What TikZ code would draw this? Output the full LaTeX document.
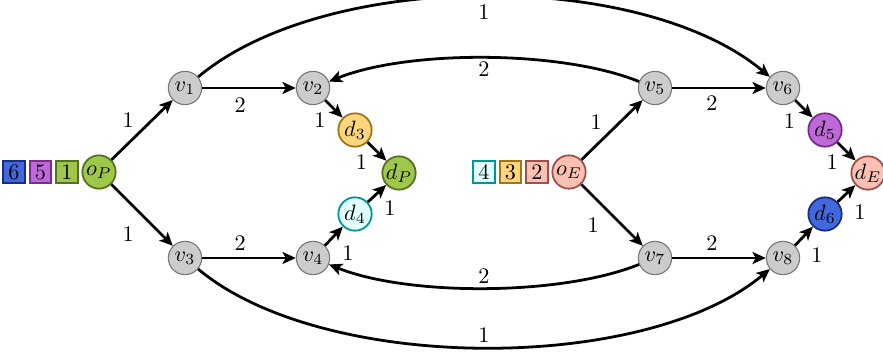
\documentclass[tikz,border=0pt]{standalone}
\usetikzlibrary{arrows.meta}
\definecolor{vfill}{RGB}{204,204,204}
\definecolor{vdraw}{RGB}{120,120,120}
\definecolor{gfill}{RGB}{157,200,75}
\definecolor{gdraw}{RGB}{85,115,30}
\definecolor{pfill}{RGB}{190,105,215}
\definecolor{pdraw}{RGB}{120,45,140}
\definecolor{bfill}{RGB}{65,105,220}
\definecolor{bdraw}{RGB}{25,45,130}
\definecolor{cfill}{RGB}{225,255,255}
\definecolor{cdraw}{RGB}{0,150,150}
\definecolor{ofill}{RGB}{255,213,125}
\definecolor{odraw}{RGB}{160,118,20}
\definecolor{sfill}{RGB}{255,192,180}
\definecolor{sdraw}{RGB}{160,80,72}
\tikzset{
  vnode/.style={circle, draw=vdraw, fill=vfill, line width=0.5pt, minimum size=15pt, inner sep=0pt},
  cnode/.style={circle, line width=0.8pt, minimum size=15pt, inner sep=0pt},
  bx/.style={rectangle, line width=0.8pt, minimum size=9.6pt, inner sep=0pt},
  gstyle/.style={fill=gfill, draw=gdraw},
  pstyle/.style={fill=pfill, draw=pdraw},
  bstyle/.style={fill=bfill, draw=bdraw},
  cstyle/.style={fill=cfill, draw=cdraw},
  ostyle/.style={fill=ofill, draw=odraw},
  sstyle/.style={fill=sfill, draw=sdraw},
  edge/.style={line width=1.25pt, -{Stealth[length=6pt,width=5.4pt,inset=1.5pt]}},
  lab/.style={inner sep=0pt, midway}
}
\begin{document}
\begin{tikzpicture}[x=0.45pt, y=-0.45pt]
\useasboundingbox (0,0) rectangle (883,354);
% left group
\node[bx, bstyle] (b6) at (14,172) {$6$};
\node[bx, pstyle] (b5) at (40.5,172) {$5$};
\node[bx, gstyle] (b1) at (67,172) {$1$};
\node[cnode, gstyle] (oP) at (99,172) {$o_P$};
\node[vnode] (v1) at (185,88) {$v_1$};
\node[vnode] (v2) at (313,88) {$v_2$};
\node[vnode] (v3) at (185,258) {$v_3$};
\node[vnode] (v4) at (313,258) {$v_4$};
\node[cnode, ostyle] (d3) at (355,130) {$d_3$};
\node[cnode, cstyle] (d4) at (355,214) {$d_4$};
\node[cnode, gstyle] (dP) at (399,173) {$d_P$};
% right group
\node[bx, cstyle] (b4) at (484,172) {$4$};
\node[bx, ostyle] (b3) at (510.5,172) {$3$};
\node[bx, sstyle] (b2) at (537,172) {$2$};
\node[cnode, sstyle] (oE) at (569,172) {$o_E$};
\node[vnode] (v5) at (655,88) {$v_5$};
\node[vnode] (v6) at (783,88) {$v_6$};
\node[vnode] (v7) at (655,258) {$v_7$};
\node[vnode] (v8) at (783,258) {$v_8$};
\node[cnode, pstyle] (d5) at (825,130) {$d_5$};
\node[cnode, bstyle] (d6) at (825,214) {$d_6$};
\node[cnode, sstyle] (dE) at (868,173) {$d_E$};
% edges left (shifts: 1px = 0.45pt, yshift up positive)
\draw[edge] (oP) -- node[lab, xshift=-6.3pt, yshift=4.5pt] {$1$} (v1);
\draw[edge] (oP) -- node[lab, xshift=-6.3pt, yshift=-8.8pt] {$1$} (v3);
\draw[edge] (v1) -- node[lab, xshift=-4pt, yshift=-7.8pt] {$2$} (v2);
\draw[edge] (v3) -- node[lab, xshift=-4pt, yshift=6.8pt] {$2$} (v4);
\draw[edge] (v2) -- node[lab, xshift=-6.3pt, yshift=-5pt] {$1$} (d3);
\draw[edge] (d3) -- node[lab, xshift=-7pt, yshift=-5pt] {$1$} (dP);
\draw[edge] (v4) -- node[lab, xshift=6.3pt, yshift=-7.6pt] {$1$} (d4);
\draw[edge] (d4) -- node[lab, xshift=5.8pt, yshift=-6.5pt] {$1$} (dP);
% edges right
\draw[edge] (oE) -- node[lab, xshift=-7.2pt, yshift=3.2pt] {$1$} (v5);
\draw[edge] (oE) -- node[lab, xshift=-8.5pt, yshift=-4.5pt] {$1$} (v7);
\draw[edge] (v5) -- node[lab, xshift=-3.2pt, yshift=-6.8pt] {$2$} (v6);
\draw[edge] (v7) -- node[lab, xshift=-3.2pt, yshift=6.8pt] {$2$} (v8);
\draw[edge] (v6) -- node[lab, xshift=-6.5pt, yshift=-5.8pt] {$1$} (d5);
\draw[edge] (d5) -- node[lab, xshift=-6.5pt, yshift=-4.8pt] {$1$} (dE);
\draw[edge] (v8) -- node[lab, xshift=5.9pt, yshift=-8.5pt] {$1$} (d6);
\draw[edge] (d6) -- node[lab, xshift=6pt, yshift=-8.3pt] {$1$} (dE);
% long arcs
\draw[edge] (v1) to[out=40, in=140, looseness=0.75] node[lab, yshift=-7.2pt] {$1$} (v6);
\draw[edge] (v5) to[bend right=22, looseness=0.7] node[lab, yshift=-5.4pt] {$2$} (v2);
\draw[edge] (v7) to[bend left=22, looseness=0.7] node[lab, yshift=5.4pt] {$2$} (v4);
\draw[edge] (v3) to[out=-40, in=-140, looseness=0.73] node[lab, yshift=5.4pt] {$1$} (v8);
\end{tikzpicture}
\end{document}
